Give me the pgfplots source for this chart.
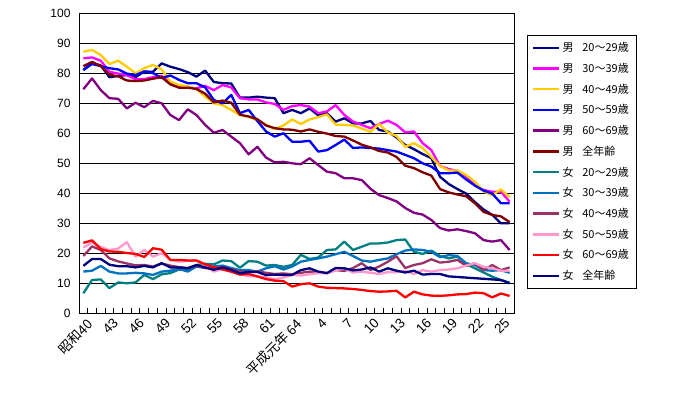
\documentclass[border=0pt]{standalone}
\usepackage{fontspec}
\setmainfont{Liberation Sans}
\newfontfamily\jp{Noto Sans CJK JP}
\usepackage{pgfplots}
\usepackage{pgfplotstable}
\pgfplotsset{compat=1.18}
\definecolor{cM20}{HTML}{000080}
\definecolor{cM30}{HTML}{FF00FF}
\definecolor{cM40}{HTML}{FFCC00}
\definecolor{cM50}{HTML}{0000FF}
\definecolor{cM60}{HTML}{800080}
\definecolor{cMall}{HTML}{800000}
\definecolor{cF20}{HTML}{008080}
\definecolor{cF30}{HTML}{0070C0}
\definecolor{cF40}{HTML}{993366}
\definecolor{cF50}{HTML}{FF99CC}
\definecolor{cF60}{HTML}{FF0000}
\definecolor{cFall}{HTML}{000080}
\pgfplotstableread{
i m20 m30 m40 m50 m60 mall f20 f30 f40 f50 f60 fall
0 81.0 84.9 87.1 81.0 74.6 82.3 6.6 13.8 19.0 21.8 23.4 15.7
1 83.4 85.2 87.7 83.0 78.2 83.7 11.0 14.1 22.2 23.5 24.2 18.0
2 82.5 84.1 86.0 82.3 74.3 82.3 11.2 15.7 21.0 22.0 21.3 18.0
3 78.6 80.4 83.0 81.6 71.6 79.4 8.3 13.8 18.2 21.0 20.5 16.1
4 79.0 79.8 84.1 81.2 71.4 78.9 10.2 13.2 17.2 21.5 20.4 15.6
5 79.3 79.3 82.1 79.8 68.2 77.5 9.9 13.2 16.5 23.6 20.0 15.6
6 78.6 77.9 79.9 79.3 70.1 77.3 10.2 13.4 15.9 18.8 19.7 15.2
7 80.5 78.0 81.6 80.5 68.6 77.5 12.7 13.2 16.0 21.0 18.7 15.7
8 80.4 78.6 82.7 80.0 70.7 78.1 11.3 12.7 15.5 18.8 21.6 15.2
9 83.2 79.0 81.2 78.3 69.9 78.6 12.9 13.8 16.5 19.9 21.1 16.6
10 82.1 77.1 77.1 79.2 66.0 76.2 13.3 14.1 15.8 17.7 17.7 15.2
11 81.3 75.2 76.0 77.7 64.3 75.1 14.5 14.7 15.3 17.1 17.7 15.2
12 80.3 75.2 75.6 76.6 67.9 75.1 14.2 13.8 15.0 17.4 17.5 14.9
13 78.8 74.9 74.6 76.6 66.0 74.7 16.0 15.5 15.8 17.5 17.5 16.0
14 80.8 75.7 72.1 75.2 62.7 73.1 16.4 15.0 15.0 16.0 16.2 15.2
15 77.0 74.3 69.9 71.0 60.1 70.2 16.2 15.5 14.8 13.8 15.3 14.4
16 76.6 76.0 69.3 69.9 61.0 70.8 17.5 15.8 15.3 14.6 14.5 15.2
17 76.5 75.2 67.7 72.7 58.8 70.1 17.3 15.0 14.6 13.7 13.8 14.4
18 71.8 71.6 66.0 66.6 56.6 66.1 15.1 14.3 13.8 12.9 12.8 13.2
19 71.8 71.2 65.4 67.7 52.9 65.5 17.3 14.3 13.6 12.3 13.0 13.7
20 72.1 71.2 64.3 64.0 55.4 64.6 17.1 13.8 13.9 12.2 12.2 13.7
21 71.8 70.2 62.8 60.5 51.8 62.5 15.8 14.9 13.4 11.8 11.3 12.6
22 71.6 69.7 61.3 58.8 50.2 61.6 16.0 15.6 13.0 11.3 10.8 12.8
23 66.6 67.7 62.5 59.9 50.4 61.2 15.4 14.5 13.2 11.8 10.6 12.7
24 67.7 69.0 64.5 57.1 49.9 61.1 16.0 15.5 12.9 12.7 8.8 12.7
25 66.6 69.3 63.0 57.1 49.6 60.5 19.4 17.1 13.4 12.5 9.6 14.3
26 68.2 68.8 64.5 57.4 51.6 61.2 18.0 17.7 13.8 12.9 9.9 14.9
27 65.9 66.6 65.3 53.8 49.3 60.4 18.5 18.2 13.6 13.3 8.8 13.8
28 66.6 67.2 66.2 54.3 47.1 59.8 21.0 18.8 13.3 13.2 8.4 13.3
29 63.8 69.3 62.8 56.0 46.6 59.0 21.2 19.6 14.3 14.2 8.3 15.0
30 64.9 66.0 62.7 57.8 44.9 58.8 23.8 20.4 14.0 14.8 8.2 14.9
31 63.2 63.8 62.5 55.0 44.9 57.5 21.0 19.0 15.0 13.5 8.0 14.2
32 63.2 62.7 61.5 55.2 44.3 56.1 22.1 17.5 16.6 13.8 7.7 14.5
33 64.0 61.6 60.4 55.0 41.4 55.2 23.2 17.1 14.3 13.4 7.3 15.2
34 61.0 63.0 63.0 54.8 39.3 54.0 23.2 17.7 15.5 13.0 7.1 13.8
35 60.5 64.1 60.2 54.3 38.3 53.5 23.5 18.2 17.1 13.6 7.2 14.9
36 58.5 62.7 59.0 53.8 37.2 52.0 24.3 19.6 18.9 13.6 7.4 14.1
37 56.0 60.2 55.4 52.7 35.0 49.1 24.5 20.8 15.0 14.1 5.2 13.5
38 54.6 60.5 56.6 51.6 33.4 48.3 20.4 21.2 16.0 13.0 7.1 14.1
39 53.0 56.6 55.0 49.9 32.8 46.9 19.7 21.0 16.6 14.3 6.2 12.8
40 51.6 54.3 52.0 48.8 31.0 45.8 20.8 20.4 17.9 13.8 5.8 13.0
41 45.4 49.0 49.0 46.6 28.3 41.3 19.0 18.6 16.8 14.3 5.7 13.0
42 43.0 48.0 47.5 46.6 27.5 40.2 18.2 19.3 17.1 14.5 5.9 12.2
43 41.3 47.3 47.5 46.8 27.9 39.5 18.8 19.0 17.7 14.9 6.2 12.0
44 39.8 45.5 46.0 44.5 27.3 38.9 16.3 16.6 15.7 15.8 6.3 11.8
45 37.0 42.5 43.8 42.5 26.6 36.6 14.9 16.0 16.6 16.6 6.8 11.6
46 34.5 41.0 40.5 40.8 24.3 33.7 13.5 14.3 14.3 15.4 6.6 11.4
47 32.7 40.4 39.3 39.8 23.8 32.7 12.1 14.1 16.0 14.9 5.2 11.2
48 29.9 40.4 41.2 36.6 24.3 32.2 11.0 14.3 14.3 14.1 6.5 11.0
49 29.9 37.1 38.6 36.6 21.0 30.3 10.1 13.4 15.2 14.1 5.7 9.9
}\datatable
\begin{document}
\begin{tikzpicture}
\useasboundingbox (-79pt,-84pt) rectangle (604pt,313pt);
\begin{axis}[
  at={(0pt,0pt)}, anchor=south west,
  scale only axis, width=435pt, height=300pt,
  xmin=-0.5, xmax=49.5, ymin=0, ymax=100,
  ytick={0,10,...,100},
  xtick={0,3,...,48},
  xticklabels={{\jp 昭和40},43,46,49,52,55,58,61,{\jp 平成元年 64},4,7,10,13,16,19,22,25},
  minor xtick={0.5,1.5,...,48.5},
  ymajorgrids,
  major grid style={black, line width=0.9pt},
  axis line style={black, line width=0.9pt},
  major tick length=0pt,
  minor tick length=5pt,
  tick align=inside,
  tick pos=left,
  minor tick style={black, line width=0.8pt},
  /pgf/number format/assume math mode=true,
  yticklabel style={font=\fontsize{12}{14}\selectfont, xshift=-5pt},
  xticklabel style={font=\fontsize{13.5}{15}\selectfont, rotate=45, anchor=north east, inner sep=1pt, yshift=-4pt},
  legend style={at={(1,1)}, anchor=north west, xshift=13pt, yshift=-22pt,
    draw=black, line width=0.6pt, font={\jp\fontsize{11}{13}\selectfont},
    row sep=6pt, inner xsep=5pt, inner ysep=5pt},
  legend cell align=left,
  legend image code/.code={\draw[#1] (0pt,0pt) -- (26pt,0pt);},
  every axis plot/.append style={line width=2.3pt, line join=round, mark=none},
]
\addplot[cM20] table[x=i,y=m20]{\datatable};
\addlegendentry{男\hspace{0.8em}20～29歳}
\addplot[cM30] table[x=i,y=m30]{\datatable};
\addlegendentry{男\hspace{0.8em}30～39歳}
\addplot[cM40] table[x=i,y=m40]{\datatable};
\addlegendentry{男\hspace{0.8em}40～49歳}
\addplot[cM50] table[x=i,y=m50]{\datatable};
\addlegendentry{男\hspace{0.8em}50～59歳}
\addplot[cM60] table[x=i,y=m60]{\datatable};
\addlegendentry{男\hspace{0.8em}60～69歳}
\addplot[cMall] table[x=i,y=mall]{\datatable};
\addlegendentry{男\hspace{0.8em}全年齢}
\addplot[cF20] table[x=i,y=f20]{\datatable};
\addlegendentry{女\hspace{0.8em}20～29歳}
\addplot[cF30] table[x=i,y=f30]{\datatable};
\addlegendentry{女\hspace{0.8em}30～39歳}
\addplot[cF40] table[x=i,y=f40]{\datatable};
\addlegendentry{女\hspace{0.8em}40～49歳}
\addplot[cF50] table[x=i,y=f50]{\datatable};
\addlegendentry{女\hspace{0.8em}50～59歳}
\addplot[cF60] table[x=i,y=f60]{\datatable};
\addlegendentry{女\hspace{0.8em}60～69歳}
\addplot[cFall] table[x=i,y=fall]{\datatable};
\addlegendentry{女\hspace{0.8em}全年齢}
\end{axis}
\end{tikzpicture}
\end{document}
